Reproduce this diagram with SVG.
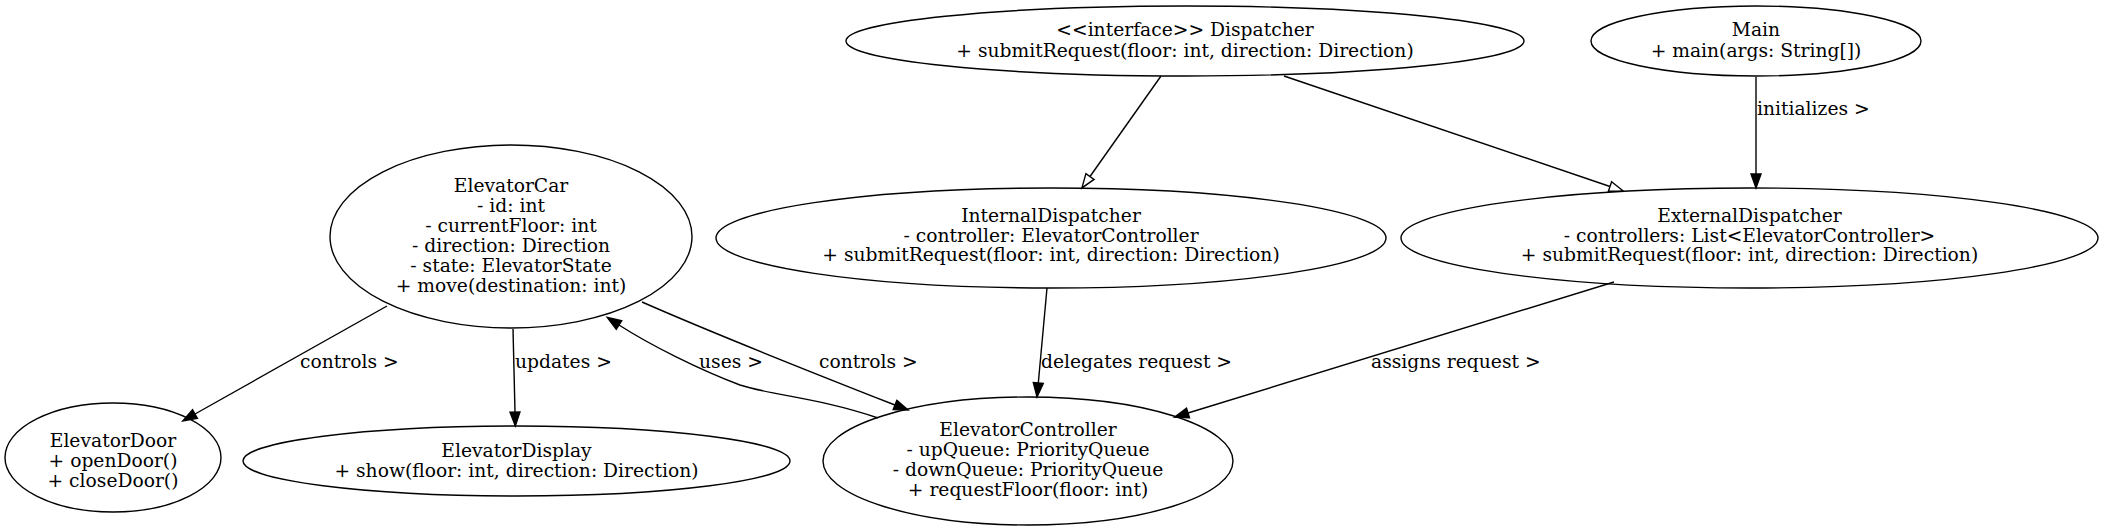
<svg xmlns="http://www.w3.org/2000/svg" width="2103" height="531" viewBox="0 0 2103 531">
<style>
.n ellipse{fill:none;stroke:#000;stroke-width:1.4}
text{font-family:"DejaVu Serif","Liberation Serif",serif;font-size:18.7px;fill:#000}
.n text{text-anchor:middle}
.e path{fill:none;stroke:#000;stroke-width:1.4}
</style>
<defs>
<marker id="a" markerUnits="userSpaceOnUse" markerWidth="16" markerHeight="12" refX="0" refY="5" orient="auto" overflow="visible"><path d="M0,0 L14,5 L0,10 z" fill="#000" stroke="#000" stroke-width="1.4"/></marker>
<marker id="h" markerUnits="userSpaceOnUse" markerWidth="16" markerHeight="12" refX="0" refY="5" orient="auto" overflow="visible"><path d="M0,0 L14,5 L0,10 z" fill="#fff" stroke="#000" stroke-width="1.4"/></marker>
</defs>
<rect width="2103" height="531" fill="#fff"/>
<g class="e" id="edges">
<path d="M1161,76 L1090,176.5" marker-end="url(#h)"/>
<path d="M1284,76 L1610,186.5" marker-end="url(#h)"/>
<path d="M1756,77 L1756,174" marker-end="url(#a)"/>
<path d="M387,306 L195,414" marker-end="url(#a)"/>
<path d="M513,329 L515,412" marker-end="url(#a)"/>
<path d="M642,302 Q724,338 895,405" marker-end="url(#a)"/>
<path d="M878,418 C820,398 770,395 740,385 C700,370 650,345 619,325" marker-end="url(#a)"/>
<path d="M1047,288 L1038.3,383" marker-end="url(#a)"/>
<path d="M1614,282 L1188,413" marker-end="url(#a)"/>
<text x="300" y="368">controls &gt;</text>
<text x="515" y="368">updates &gt;</text>
<text x="699" y="368">uses &gt;</text>
<text x="819" y="368">controls &gt;</text>
<text x="1041" y="368">delegates request &gt;</text>
<text x="1371" y="368">assigns request &gt;</text>
<text x="1757" y="115">initializes &gt;</text>
</g>
<g class="n" id="Dispatcher"><ellipse cx="1185" cy="41" rx="339" ry="35"/><text x="1185" y="36">&lt;&lt;interface&gt;&gt; Dispatcher</text><text x="1185" y="57">+ submitRequest(floor: int, direction: Direction)</text></g>
<g class="n" id="Main"><ellipse cx="1756" cy="41" rx="165" ry="35"/><text x="1756" y="36">Main</text><text x="1756" y="57">+ main(args: String[])</text></g>
<g class="n" id="ElevatorCar"><ellipse cx="511" cy="236.5" rx="181" ry="91.5"/><text x="511" y="192">ElevatorCar</text><text x="511" y="212">- id: int</text><text x="511" y="232">- currentFloor: int</text><text x="511" y="252">- direction: Direction</text><text x="511" y="272">- state: ElevatorState</text><text x="511" y="292">+ move(destination: int)</text></g>
<g class="n" id="InternalDispatcher"><ellipse cx="1051" cy="238" rx="335" ry="50"/><text x="1051" y="222">InternalDispatcher</text><text x="1051" y="241.5">- controller: ElevatorController</text><text x="1051" y="261">+ submitRequest(floor: int, direction: Direction)</text></g>
<g class="n" id="ExternalDispatcher"><ellipse cx="1749.5" cy="238" rx="348.5" ry="50"/><text x="1749.5" y="222">ExternalDispatcher</text><text x="1749.5" y="241.5">- controllers: List&lt;ElevatorController&gt;</text><text x="1749.5" y="261">+ submitRequest(floor: int, direction: Direction)</text></g>
<g class="n" id="ElevatorDoor"><ellipse cx="113" cy="457.5" rx="108" ry="54.5"/><text x="113" y="447">ElevatorDoor</text><text x="113" y="467">+ openDoor()</text><text x="113" y="487">+ closeDoor()</text></g>
<g class="n" id="ElevatorDisplay"><ellipse cx="516.5" cy="461" rx="273.5" ry="35"/><text x="516.5" y="457">ElevatorDisplay</text><text x="516.5" y="477">+ show(floor: int, direction: Direction)</text></g>
<g class="n" id="ElevatorController"><ellipse cx="1028" cy="461" rx="205" ry="64"/><text x="1028" y="436">ElevatorController</text><text x="1028" y="456">- upQueue: PriorityQueue</text><text x="1028" y="476">- downQueue: PriorityQueue</text><text x="1028" y="496">+ requestFloor(floor: int)</text></g>
</svg>
